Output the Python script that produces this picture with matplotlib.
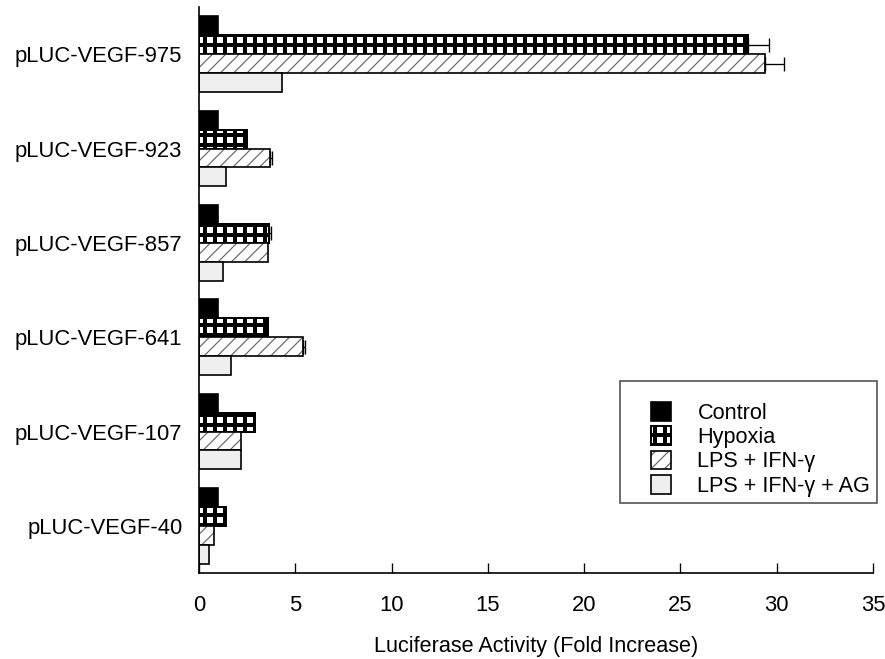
import matplotlib
matplotlib.use('Agg')
import matplotlib.pyplot as plt
import numpy as np
from matplotlib.patches import Patch, Rectangle
from matplotlib.legend_handler import HandlerTuple

plt.rcParams['font.family'] = ['Liberation Sans', 'DejaVu Sans']
plt.rcParams['hatch.linewidth'] = 2.4

# ---- data ----
constructs = ['pLUC-VEGF-975', 'pLUC-VEGF-923', 'pLUC-VEGF-857',
              'pLUC-VEGF-641', 'pLUC-VEGF-107', 'pLUC-VEGF-40']
control = [1.0, 1.0, 1.0, 1.0, 1.0, 1.0]
hypoxia = [28.5, 2.5, 3.65, 3.6, 2.9, 1.4]
lps_ifn = [29.4, 3.7, 3.6, 5.4, 2.2, 0.8]
lps_ifn_ag = [4.3, 1.4, 1.25, 1.65, 2.2, 0.5]
hypoxia_err = [1.1, 0.0, 0.1, 0.0, 0.0, 0.0]
lps_ifn_err = [1.0, 0.1, 0.0, 0.1, 0.0, 0.0]
series_names = ['Control', 'Hypoxia', 'LPS + IFN-\u03b3', 'LPS + IFN-\u03b3 + AG']
x_ticks = [0, 5, 10, 15, 20, 25, 30, 35]
x_label = 'Luciferase Activity (Fold Increase)'

DPI = 120
W, H = 885, 659
fig = plt.figure(figsize=(W / DPI, H / DPI), dpi=DPI)
ax = fig.add_axes([199 / W, 1 - 573 / H, (873 - 199) / W, (573 - 7) / H])

pos = np.arange(len(constructs))
h = 0.2
offs = [-0.3, -0.1, 0.1, 0.3]

def set_hlw(patches, lw):
    for p in patches:
        if hasattr(p, 'set_hatch_linewidth'):
            p.set_hatch_linewidth(lw)

# Control
ax.barh(pos + offs[0], control, height=h, color='black', edgecolor='black', linewidth=1.0)
# Hypoxia: grid pattern
with plt.rc_context({'hatch.linewidth': 2.4}):
    b = ax.barh(pos + offs[1], hypoxia, height=h, color='white', edgecolor='black',
                linewidth=1.2, hatch='++')
set_hlw(b.patches, 2.4)
# LPS + IFN: diagonal gray hatch with black outline
with plt.rc_context({'hatch.linewidth': 0.7}):
    b2 = ax.barh(pos + offs[2], lps_ifn, height=h, color='white', edgecolor='#666666',
                 linewidth=0, hatch='///')
set_hlw(b2.patches, 0.7)
ax.barh(pos + offs[2], lps_ifn, height=h, fill=False, edgecolor='black', linewidth=1.0)
# LPS + IFN + AG
ax.barh(pos + offs[3], lps_ifn_ag, height=h, color='#efefef', edgecolor='black', linewidth=1.0)

# error bars (one-sided)
for vals, errs, off in [(hypoxia, hypoxia_err, offs[1]), (lps_ifn, lps_ifn_err, offs[2])]:
    idx = [i for i, e in enumerate(errs) if e > 0]
    xs = [vals[i] for i in idx]
    es = [errs[i] for i in idx]
    ys = [pos[i] + off for i in idx]
    ax.errorbar(xs, ys, xerr=[np.zeros(len(es)), es], fmt='none', ecolor='black',
                elinewidth=0.8, capsize=4, capthick=0.8)

ax.set_xlim(0, 35)
ax.set_ylim(5.5, -0.5)
ax.set_xticks(x_ticks)
ax.set_xticklabels([str(t) for t in x_ticks])
ax.set_yticks(pos)
ax.set_yticklabels(constructs)
ax.tick_params(axis='x', direction='in', length=6, width=0.8, pad=13, labelsize=13.2)
ax.tick_params(axis='y', length=0, pad=10, labelsize=13.2)
ax.set_xlabel(x_label, fontsize=13, labelpad=12)
for s in ['top', 'right']:
    ax.spines[s].set_visible(False)
for s in ['left', 'bottom']:
    ax.spines[s].set_linewidth(1.0)

# legend
hp0 = Patch(facecolor='black', edgecolor='black', linewidth=1.0)
hp1 = Patch(facecolor='white', edgecolor='black', linewidth=1.2, hatch='++')
hp2a = Patch(facecolor='white', edgecolor='#666666', linewidth=0, hatch='///')
hp2b = Patch(fill=False, edgecolor='black', linewidth=1.0)
hp3 = Patch(facecolor='#efefef', edgecolor='black', linewidth=1.0)
leg = fig.legend([hp0, hp1, (hp2a, hp2b), hp3], series_names,
                 handler_map={tuple: HandlerTuple(ndivide=1, pad=0)},
                 loc='upper left', bbox_to_anchor=(640 / W, 1 - 391 / H),
                 frameon=False, borderpad=0, fontsize=13, handlelength=0.95,
                 handleheight=0.95, handletextpad=1.2, labelspacing=0.12)
for p in leg.get_patches():
    if p.get_hatch() == '++':
        set_hlw([p], 2.4)
    elif p.get_hatch() == '///':
        set_hlw([p], 0.7)
fig.patches.append(Rectangle((620 / W, 1 - 503 / H), 257 / W, 122 / H,
                             transform=fig.transFigure, fill=False,
                             edgecolor='#555555', linewidth=1.0))

fig.savefig('out.png', dpi=DPI)
